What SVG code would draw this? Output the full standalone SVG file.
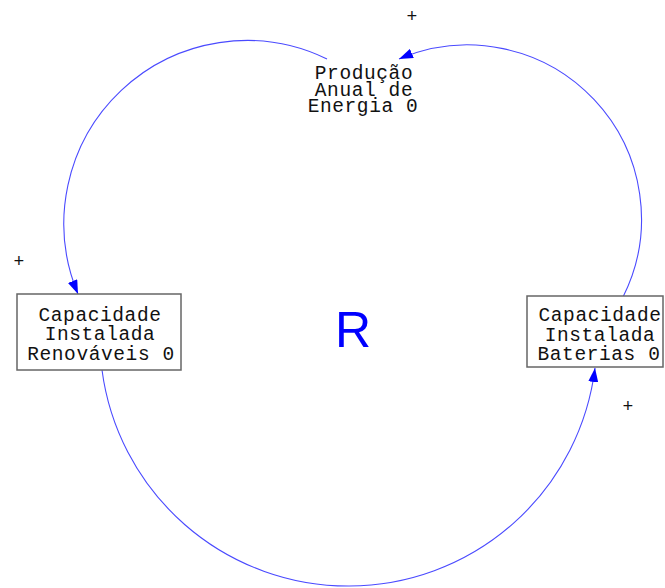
<svg xmlns="http://www.w3.org/2000/svg" width="665" height="588" viewBox="0 0 665 588">
<style>
.lbl{font-family:"Liberation Mono","Courier New",monospace;font-size:19.5px;letter-spacing:0.6px;fill:#111;text-anchor:middle}
.pol{font-family:"Liberation Mono","Courier New",monospace;font-size:18px;fill:#111;text-anchor:middle}
.box{fill:#fff;stroke:#666;stroke-width:1.5}
.lnk{fill:none;stroke:#4a4aff;stroke-width:1.1}
</style>
<defs>
<marker id="ah" viewBox="0 0 14 10" refX="14" refY="5" markerWidth="14" markerHeight="10" markerUnits="userSpaceOnUse" orient="auto">
<path d="M0,0 L14,5 L0,10 Z" fill="#0000ff"/>
</marker>
</defs>
<rect width="665" height="588" fill="#fff"/>
<g id="connectors">
<path class="lnk" d="M327,59 A183,183 0 0 0 78,294" marker-end="url(#ah)"/>
<path class="lnk" d="M623,297 A174,174 0 0 0 399,59" marker-end="url(#ah)"/>
<path class="lnk" d="M102,370 A248.5,248.5 0 0 0 595,368" marker-end="url(#ah)"/>
</g>
<g id="producao">
<text class="lbl" x="364" y="79">Produção</text>
<text class="lbl" x="364" y="96">Anual de</text>
<text class="lbl" x="363" y="112">Energia 0</text>
</g>
<g id="renovaveis">
<rect class="box" x="17" y="294" width="164" height="76"/>
<text class="lbl" x="100" y="321">Capacidade</text>
<text class="lbl" x="100" y="340">Instalada</text>
<text class="lbl" x="101" y="360">Renováveis 0</text>
</g>
<g id="baterias">
<rect class="box" x="527" y="296" width="136" height="71"/>
<text class="lbl" x="600" y="321">Capacidade</text>
<text class="lbl" x="600" y="341">Instalada</text>
<text class="lbl" x="599" y="360">Baterias 0</text>
</g>
<g id="polarities">
<text class="pol" x="412" y="22">+</text>
<text class="pol" x="19" y="267">+</text>
<text class="pol" x="628" y="412">+</text>
</g>
<text x="353" y="347" font-family="Liberation Sans, Arial, sans-serif" font-size="50" fill="#0000ff" text-anchor="middle">R</text>
</svg>
